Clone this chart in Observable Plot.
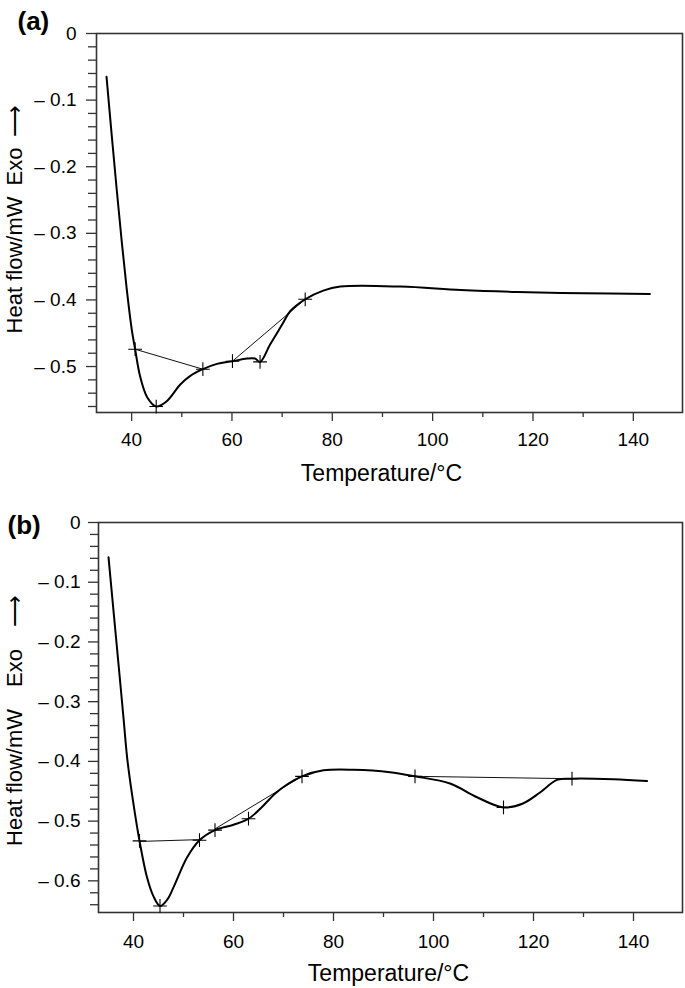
<!DOCTYPE html>
<html>
<head>
<meta charset="utf-8">
<script src="https://cdn.jsdelivr.net/npm/d3@7"></script>
<script src="https://cdn.jsdelivr.net/npm/@observablehq/plot@0.6"></script>
<style>
  body { margin: 0; background: #fff; }
  svg { display: block; }
</style>
</head>
<body>
<div id="panelA"></div>
<div id="panelB"></div>
<script>
// ---------- Data ----------
// Panel (a): DSC curve
const tempA = [35.0, 36.0, 37.0, 38.0, 39.0, 40.0, 40.7, 41.7, 43.1, 44.9, 47.0, 49.7, 51.7, 54.2, 57.0, 60.1, 63.0, 64.6, 65.6, 67.6, 70.0, 71.6, 74.6, 78.2, 81.6, 93.6, 105.6, 116.9, 130.1, 143.3];
const heatA = [-0.065, -0.150, -0.232, -0.310, -0.382, -0.443, -0.474, -0.515, -0.546, -0.560, -0.552, -0.527, -0.514, -0.504, -0.496, -0.492, -0.488, -0.488, -0.493, -0.467, -0.437, -0.417, -0.399, -0.386, -0.380, -0.380, -0.385, -0.388, -0.390, -0.391];
// Panel (a): "+" markers
const markTempA = [40.7, 44.9, 54.2, 60.1, 65.6, 74.6];
const markHeatA = [-0.474, -0.560, -0.504, -0.492, -0.493, -0.399];
// Panel (a): integration baselines (segment id per point)
const baseTempA = [40.7, 54.2, 60.1, 74.6];
const baseHeatA = [-0.474, -0.504, -0.492, -0.399];
const baseSegA  = [1, 1, 2, 2];

// Panel (b): DSC curve
const tempB = [35.0, 36.0, 37.0, 38.0, 38.8, 40.3, 41.2, 42.7, 44.0, 45.3, 46.7, 48.0, 50.7, 53.2, 56.3, 60.0, 63.0, 65.5, 68.3, 71.0, 73.7, 78.0, 84.0, 91.3, 96.3, 103.3, 108.7, 114.0, 118.0, 121.3, 124.7, 127.7, 136.0, 142.7];
const heatB = [-0.058, -0.148, -0.237, -0.327, -0.399, -0.488, -0.533, -0.594, -0.626, -0.642, -0.632, -0.611, -0.561, -0.532, -0.515, -0.506, -0.496, -0.478, -0.454, -0.437, -0.425, -0.415, -0.414, -0.418, -0.425, -0.437, -0.460, -0.477, -0.470, -0.452, -0.431, -0.429, -0.430, -0.433];
// Panel (b): "+" markers
const markTempB = [41.2, 45.3, 53.2, 56.3, 63.0, 73.7, 96.3, 114.0, 127.7];
const markHeatB = [-0.533, -0.642, -0.532, -0.515, -0.496, -0.425, -0.425, -0.477, -0.429];
// Panel (b): integration baselines
const baseTempB = [41.2, 53.2, 56.3, 73.7, 96.3, 127.7];
const baseHeatB = [-0.534, -0.531, -0.513, -0.425, -0.425, -0.429];
const baseSegB  = [1, 1, 2, 2, 3, 3];

// ---------- Ticks and labels ----------
const xMajor = [40, 60, 80, 100, 120, 140];
const xMajorLabels = ["40", "60", "80", "100", "120", "140"];
const xMinor = [50, 70, 90, 110, 130];
const yMajorA = [0, -0.1, -0.2, -0.3, -0.4, -0.5];
const yMajorLabelsA = ["0", "– 0.1", "– 0.2", "– 0.3", "– 0.4", "– 0.5"];
const yMajorB = [0, -0.1, -0.2, -0.3, -0.4, -0.5, -0.6];
const yMajorLabelsB = ["0", "– 0.1", "– 0.2", "– 0.3", "– 0.4", "– 0.5", "– 0.6"];
const xTitle = "Temperature/°C";
const yTitleA = "Heat flow/mW\u2002Exo\u2002\u27F6";
const yTitleB = "Heat flow/mW\u2003Exo\u2003\u27F6";
const panelLabels = ["(a)", "(b)"];

const FONT = "'Liberation Sans', Arial, Helvetica, sans-serif";
const xDomain = [33, 149.8];

function minorTicks(lo, majors) {
  return d3.range(0, Math.round(-lo / 0.02) + 1).map(k => -k * 0.02)
    .filter(v => v >= lo && !majors.some(m => Math.abs(m - v) < 1e-9));
}

function panel(o) {
  const curve = o.temp.map((t, i) => ({t, h: o.heat[i]}));
  const marks = o.markT.map((t, i) => ({t, h: o.markH[i]}));
  const base = o.baseT.map((t, i) => ({t, h: o.baseH[i], s: o.baseS[i]}));
  const xLab = new Map(xMajor.map((d, i) => [d, xMajorLabels[i]]));
  const yLab = new Map(o.yMajor.map((d, i) => [d, o.yLabels[i]]));
  return Plot.plot({
    width: 685, height: o.height,
    marginLeft: o.ml, marginRight: o.mr, marginTop: o.mt, marginBottom: o.mb,
    x: {domain: xDomain, label: null},
    y: {domain: o.yDomain, label: null},
    style: {fontFamily: FONT, color: "#000", background: "#fff", overflow: "visible"},
    marks: [
      Plot.axisX({ticks: xMinor, tickSize: 5, tickFormat: () => "", label: null, stroke: "#333", strokeWidth: 1.3}),
      Plot.axisX({ticks: xMajor, tickSize: 9, tickPadding: o.xpad, tickFormat: d => xLab.get(d), fontSize: 19, label: null, stroke: "#333", strokeWidth: 1.3}),
      Plot.axisY({ticks: minorTicks(o.yDomain[0], o.yMajor), tickSize: 8, tickFormat: () => "", label: null, stroke: "#333", strokeWidth: 1.3}),
      Plot.axisY({ticks: o.yMajor, tickSize: 10, tickPadding: o.ypad, tickFormat: d => yLab.get(d), fontSize: 19, label: null, stroke: "#333", strokeWidth: 1.3}),
      Plot.frame({stroke: "#333", strokeWidth: 1.6}),
      Plot.line(base, {x: "t", y: "h", z: "s", stroke: "#111", strokeWidth: 1}),
      Plot.line(curve, {x: "t", y: "h", curve: "catmull-rom", stroke: "#000", strokeWidth: 2}),
      Plot.dot(marks, {x: "t", y: "h", symbol: "plus", r: 4.5, stroke: "#000", strokeWidth: 1.1}),
      Plot.text([o.panelLabel], {text: d => d, frameAnchor: "top-left", dx: o.plx, dy: o.ply, textAnchor: "start", lineAnchor: "middle", fontSize: 26, fontWeight: "bold"}),
      Plot.text([xTitle], {text: d => d, frameAnchor: "bottom", dx: o.xtx, dy: o.xty, textAnchor: "middle", lineAnchor: "middle", fontSize: 23}),
      Plot.text([o.yTitle], {text: d => d, frameAnchor: "left", rotate: -90, dx: o.ytx, dy: o.yty, textAnchor: "middle", lineAnchor: "middle", fontSize: 22})
    ]
  });
}

document.getElementById("panelA").append(panel({
  temp: tempA, heat: heatA, markT: markTempA, markH: markHeatA,
  baseT: baseTempA, baseH: baseHeatA, baseS: baseSegA,
  yMajor: yMajorA, yLabels: yMajorLabelsA, yDomain: [-0.569, 0],
  height: 490, ml: 96, mr: 3, mt: 33, mb: 78, xpad: 11, ypad: 10,
  panelLabel: panelLabels[0], plx: -79, ply: -12,
  xtx: -8, xty: 61, yTitle: yTitleA, ytx: -81.5, yty: -4
}));
document.getElementById("panelB").append(panel({
  temp: tempB, heat: heatB, markT: markTempB, markH: markHeatB,
  baseT: baseTempB, baseH: baseHeatB, baseS: baseSegB,
  yMajor: yMajorB, yLabels: yMajorLabelsB, yDomain: [-0.653, 0],
  height: 498, ml: 98, mr: 3, mt: 32, mb: 76, xpad: 12.5, ypad: 8,
  panelLabel: panelLabels[1], plx: -91, ply: 3,
  xtx: -2, xty: 61, yTitle: yTitleB, ytx: -84, yty: 3
}));
</script>
</body>
</html>
